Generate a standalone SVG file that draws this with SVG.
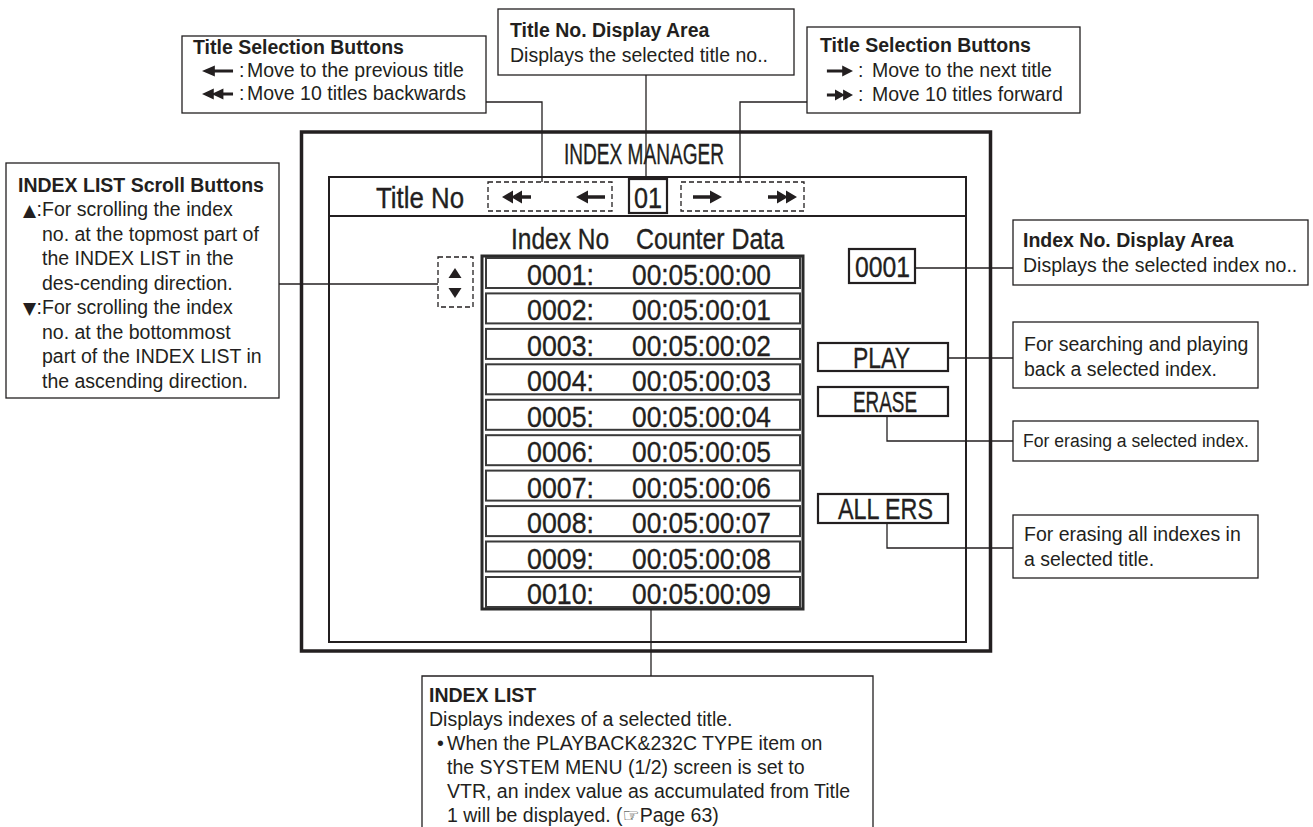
<svg xmlns="http://www.w3.org/2000/svg" width="1313" height="827" viewBox="0 0 1313 827">
<style>
.lg{font-family:"Liberation Sans",Arial,sans-serif;font-size:19.5px;fill:#231f20}
.b{font-weight:bold}
.sc{font-family:"Liberation Sans",Arial,sans-serif;font-size:29px;fill:#231f20;stroke:#231f20;stroke-width:0.35}
.sym{font-family:"DejaVu Sans",sans-serif;font-size:17px}
.box{fill:#fff;stroke:#231f20;stroke-width:1.3}
.dash{fill:none;stroke:#231f20;stroke-width:1.3;stroke-dasharray:5 3}
.btn{fill:#fff;stroke:#231f20;stroke-width:2.2}
.row{fill:#fff;stroke:#3a3a3a;stroke-width:2}
.con{fill:none;stroke:#231f20;stroke-width:1.3}
.ar{fill:#231f20}
</style>
<defs>
<path id="a1" d="M0,0 L12,-6.5 L12,-1.8 L29,-1.8 L29,1.8 L12,1.8 L12,6.5 Z"/>
<path id="a2" d="M0,0 L11,-6.5 L11,6.5 Z M9,0 L20,-6.5 L20,6.5 Z M18,-1.8 L29,-1.8 L29,1.8 L18,1.8 Z"/>
</defs>

<g id="screen">
<rect x="301.5" y="132" width="689" height="519" fill="none" stroke="#231f20" stroke-width="3.5"/>
<text class="sc" x="564" y="164" textLength="160" lengthAdjust="spacingAndGlyphs">INDEX MANAGER</text>
<rect x="329" y="177" width="637" height="465" fill="none" stroke="#231f20" stroke-width="2"/>
<line x1="329" y1="216" x2="966" y2="216" stroke="#231f20" stroke-width="2"/>
<text class="sc" x="376" y="208" textLength="88" lengthAdjust="spacingAndGlyphs">Title No</text>
</g>

<g id="title-prev-buttons">
<rect class="dash" x="488" y="182" width="124" height="29"/>
<use href="#a2" class="ar" transform="translate(502,197)"/>
<use href="#a1" class="ar" transform="translate(576,197)"/>
</g>
<g id="title-no-display">
<rect class="btn" x="629" y="179" width="38" height="34"/>
<text class="sc" x="634" y="208" textLength="28" lengthAdjust="spacingAndGlyphs">01</text>
</g>
<g id="title-next-buttons">
<rect class="dash" x="681" y="182" width="123" height="29"/>
<use href="#a1" class="ar" transform="translate(722,197) scale(-1,1)"/>
<use href="#a2" class="ar" transform="translate(797,197) scale(-1,1)"/>
</g>

<g id="list-header">
<text class="sc" x="511" y="249" textLength="98" lengthAdjust="spacingAndGlyphs">Index No</text>
<text class="sc" x="636" y="249" textLength="148" lengthAdjust="spacingAndGlyphs">Counter Data</text>
</g>

<g id="scroll-buttons">
<rect class="dash" x="438" y="257" width="35" height="50"/>
<polygon class="ar" points="448.5,278 461.5,278 455,268"/>
<polygon class="ar" points="448.5,288 461.5,288 455,298"/>
</g>

<g id="index-list">
<rect x="482" y="256" width="321" height="353" fill="#fff" stroke="#2a2a2a" stroke-width="3"/>
<rect class="row" x="486" y="258" width="314" height="30"/>
<rect class="row" x="486" y="293.4" width="314" height="30"/>
<rect class="row" x="486" y="328.9" width="314" height="30"/>
<rect class="row" x="486" y="364.3" width="314" height="30"/>
<rect class="row" x="486" y="399.8" width="314" height="30"/>
<rect class="row" x="486" y="435.2" width="314" height="30"/>
<rect class="row" x="486" y="470.6" width="314" height="30"/>
<rect class="row" x="486" y="506.1" width="314" height="30"/>
<rect class="row" x="486" y="541.5" width="314" height="30"/>
<rect class="row" x="486" y="577" width="314" height="30"/>
<g class="sc">
<text x="527" y="285" textLength="67" lengthAdjust="spacingAndGlyphs">0001:</text>
<text x="632" y="285" textLength="139" lengthAdjust="spacingAndGlyphs">00:05:00:00</text>
<text x="527" y="320.4" textLength="67" lengthAdjust="spacingAndGlyphs">0002:</text>
<text x="632" y="320.4" textLength="139" lengthAdjust="spacingAndGlyphs">00:05:00:01</text>
<text x="527" y="355.9" textLength="67" lengthAdjust="spacingAndGlyphs">0003:</text>
<text x="632" y="355.9" textLength="139" lengthAdjust="spacingAndGlyphs">00:05:00:02</text>
<text x="527" y="391.3" textLength="67" lengthAdjust="spacingAndGlyphs">0004:</text>
<text x="632" y="391.3" textLength="139" lengthAdjust="spacingAndGlyphs">00:05:00:03</text>
<text x="527" y="426.8" textLength="67" lengthAdjust="spacingAndGlyphs">0005:</text>
<text x="632" y="426.8" textLength="139" lengthAdjust="spacingAndGlyphs">00:05:00:04</text>
<text x="527" y="462.2" textLength="67" lengthAdjust="spacingAndGlyphs">0006:</text>
<text x="632" y="462.2" textLength="139" lengthAdjust="spacingAndGlyphs">00:05:00:05</text>
<text x="527" y="497.6" textLength="67" lengthAdjust="spacingAndGlyphs">0007:</text>
<text x="632" y="497.6" textLength="139" lengthAdjust="spacingAndGlyphs">00:05:00:06</text>
<text x="527" y="533.1" textLength="67" lengthAdjust="spacingAndGlyphs">0008:</text>
<text x="632" y="533.1" textLength="139" lengthAdjust="spacingAndGlyphs">00:05:00:07</text>
<text x="527" y="568.5" textLength="67" lengthAdjust="spacingAndGlyphs">0009:</text>
<text x="632" y="568.5" textLength="139" lengthAdjust="spacingAndGlyphs">00:05:00:08</text>
<text x="527" y="604" textLength="67" lengthAdjust="spacingAndGlyphs">0010:</text>
<text x="632" y="604" textLength="139" lengthAdjust="spacingAndGlyphs">00:05:00:09</text>
</g>
</g>

<g id="index-no-display">
<rect class="btn" x="849" y="249" width="66" height="34"/>
<text class="sc" x="855" y="277" textLength="55" lengthAdjust="spacingAndGlyphs">0001</text>
</g>
<g id="play-button">
<rect class="btn" x="818" y="343" width="130" height="28"/>
<text class="sc" x="853" y="368" textLength="57" lengthAdjust="spacingAndGlyphs">PLAY</text>
</g>
<g id="erase-button">
<rect class="btn" x="818" y="387" width="130" height="29"/>
<text class="sc" x="853" y="412" textLength="64" lengthAdjust="spacingAndGlyphs">ERASE</text>
</g>
<g id="allers-button">
<rect class="btn" x="818" y="494" width="130" height="29"/>
<text class="sc" x="838" y="519" textLength="95" lengthAdjust="spacingAndGlyphs">ALL ERS</text>
</g>

<g id="connectors">
<polyline class="con" points="486,102 542,102 542,182"/>
<polyline class="con" points="646,75 646,179"/>
<polyline class="con" points="807,102 740,102 740,182"/>
<polyline class="con" points="279,284 438,284"/>
<polyline class="con" points="915,268 1013,268"/>
<polyline class="con" points="948,358 1013,358"/>
<polyline class="con" points="887,416 887,441 1013,441"/>
<polyline class="con" points="887,523 887,548 1013,548"/>
<polyline class="con" points="651,609 651,676"/>
</g>

<g id="note-title-prev">
<rect class="box" x="182" y="36" width="304" height="77"/>
<text class="lg b" x="193" y="54">Title Selection Buttons</text>
<use href="#a1" class="ar" transform="translate(202,71) scale(1.07,0.85)"/>
<text class="lg" y="77"><tspan x="239">:</tspan><tspan x="247">Move to the previous title</tspan></text>
<use href="#a2" class="ar" transform="translate(202,94) scale(1.07,0.85)"/>
<text class="lg" y="100"><tspan x="239">:</tspan><tspan x="247">Move 10 titles backwards</tspan></text>
</g>

<g id="note-title-display">
<rect class="box" x="498" y="9" width="296" height="66"/>
<text class="lg b" x="510" y="37">Title No. Display Area</text>
<text class="lg" x="510" y="62">Displays the selected title no..</text>
</g>

<g id="note-title-next">
<rect class="box" x="807" y="27" width="273" height="86"/>
<text class="lg b" x="820" y="52">Title Selection Buttons</text>
<use href="#a1" class="ar" transform="translate(853,71) scale(-0.9,0.85)"/>
<text class="lg" y="77"><tspan x="858">:</tspan><tspan x="872">Move to the next title</tspan></text>
<use href="#a2" class="ar" transform="translate(853,95) scale(-0.9,0.85)"/>
<text class="lg" y="101"><tspan x="858">:</tspan><tspan x="872">Move 10 titles forward</tspan></text>
</g>

<g id="note-scroll">
<rect class="box" x="6" y="163" width="273" height="235"/>
<text class="lg b" x="18" y="191.5">INDEX LIST Scroll Buttons</text>
<text class="lg" y="216"><tspan x="23" class="sym">▲</tspan><tspan x="36.5">:</tspan><tspan x="42">For scrolling the index</tspan></text>
<text class="lg" x="42" y="240.5">no. at the topmost part of</text>
<text class="lg" x="42" y="265">the INDEX LIST in the</text>
<text class="lg" x="42" y="289.5">des-cending direction.</text>
<text class="lg" y="314"><tspan x="23" class="sym">▼</tspan><tspan x="36.5">:</tspan><tspan x="42">For scrolling the index</tspan></text>
<text class="lg" x="42" y="338.5">no. at the bottommost</text>
<text class="lg" x="42" y="363">part of the INDEX LIST in</text>
<text class="lg" x="42" y="387.5">the ascending direction.</text>
</g>

<g id="note-index-display">
<rect class="box" x="1013" y="220" width="295" height="65"/>
<text class="lg b" x="1023" y="247">Index No. Display Area</text>
<text class="lg" x="1023" y="272">Displays the selected index no..</text>
</g>

<g id="note-play">
<rect class="box" x="1013" y="322" width="245" height="66"/>
<text class="lg" x="1024" y="351">For searching and playing</text>
<text class="lg" x="1024" y="376">back a selected index.</text>
</g>

<g id="note-erase">
<rect class="box" x="1013" y="421" width="245" height="40"/>
<text class="lg" x="1023" y="447" style="font-size:17.6px">For erasing a selected index.</text>
</g>

<g id="note-allers">
<rect class="box" x="1013" y="515" width="245" height="63"/>
<text class="lg" x="1024" y="541">For erasing all indexes in</text>
<text class="lg" x="1024" y="566">a selected title.</text>
</g>

<g id="note-index-list">
<path class="box" d="M422,830 V676 H873 V830"/>
<text class="lg b" x="429" y="702">INDEX LIST</text>
<text class="lg" x="429" y="726">Displays indexes of a selected title.</text>
<text class="lg" x="437" y="750">•</text>
<text class="lg" x="447" y="750">When the PLAYBACK&amp;232C TYPE item on</text>
<text class="lg" x="447" y="774">the SYSTEM MENU (1/2) screen is set to</text>
<text class="lg" x="447" y="798">VTR, an index value as accumulated from Title</text>
<text class="lg" x="447" y="822">1 will be displayed. (<tspan style="font-family:'DejaVu Sans',sans-serif;font-size:19px">☞</tspan>Page 63)</text>
</g>
</svg>
